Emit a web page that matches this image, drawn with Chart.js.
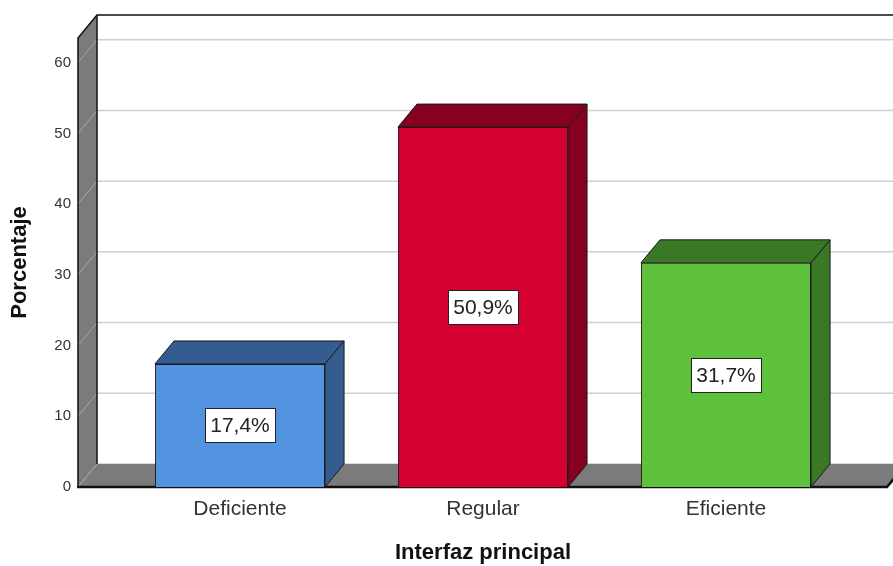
<!DOCTYPE html>
<html>
<head>
<meta charset="utf-8">
<script src="https://cdn.jsdelivr.net/npm/chart.js@4.4.1/dist/chart.umd.min.js"></script>
<style>
  html, body { margin: 0; padding: 0; background: #ffffff; }
  #wrap { width: 893px; height: 566px; }
</style>
</head>
<body>
<div id="wrap"><canvas id="c" width="893" height="566"></canvas></div>
<script>
const categories = ['Deficiente', 'Regular', 'Eficiente'];
const percentages = [17.4, 50.9, 31.7];
const valueLabels = ['17,4%', '50,9%', '31,7%'];
const yTicks = [0, 10, 20, 30, 40, 50, 60];
const frontColors = ['#5294E2', '#D30031', '#5EC13B'];
const sideColors = ['#345C8E', '#86001F', '#3B7826'];

const DX = 19, DY = -23;
const FONT = '"Liberation Sans", Arial, sans-serif';

const plot3d = {
  id: 'plot3d',
  beforeDatasetsDraw(chart) {
    const ctx = chart.ctx;
    const y = chart.scales.y;
    const y0 = y.getPixelForValue(0);
    const yTop = y.getPixelForValue(y.max);
    const xL = 78, xR = 887;
    ctx.save();
    ctx.lineWidth = 1.5;
    ctx.strokeStyle = '#cfcfcf';
    yTicks.forEach(v => {
      const py = y.getPixelForValue(v);
      ctx.beginPath();
      ctx.moveTo(xL + DX, py + DY);
      ctx.lineTo(chart.width + 20, py + DY);
      ctx.stroke();
    });
    ctx.fillStyle = '#7b7b7b';
    ctx.beginPath();
    ctx.moveTo(xL, y0);
    ctx.lineTo(xL, yTop);
    ctx.lineTo(xL + DX, yTop + DY);
    ctx.lineTo(xL + DX, y0 + DY);
    ctx.closePath();
    ctx.fill();
    ctx.strokeStyle = '#a8a8a8';
    ctx.lineWidth = 1;
    yTicks.forEach(v => {
      const py = y.getPixelForValue(v);
      ctx.beginPath();
      ctx.moveTo(xL, py);
      ctx.lineTo(xL + DX, py + DY);
      ctx.stroke();
    });
    ctx.fillStyle = '#7b7b7b';
    ctx.beginPath();
    ctx.moveTo(xL, y0);
    ctx.lineTo(xR, y0);
    ctx.lineTo(xR + DX, y0 + DY);
    ctx.lineTo(xL + DX, y0 + DY);
    ctx.closePath();
    ctx.fill();
    ctx.strokeStyle = '#a8a8a8';
    ctx.beginPath();
    ctx.moveTo(xL, y0);
    ctx.lineTo(xL + DX, y0 + DY);
    ctx.stroke();
    ctx.strokeStyle = '#111';
    ctx.lineWidth = 1.5;
    ctx.beginPath();
    ctx.moveTo(xL, y0);
    ctx.lineTo(xL, yTop);
    ctx.lineTo(xL + DX, yTop + DY);
    ctx.lineTo(chart.width + 20, yTop + DY);
    ctx.stroke();
    ctx.beginPath();
    ctx.moveTo(xL + DX, yTop + DY);
    ctx.lineTo(xL + DX, y0 + DY);
    ctx.stroke();
    ctx.lineWidth = 2.5;
    ctx.beginPath();
    ctx.moveTo(xL - 1, y0);
    ctx.lineTo(xR, y0);
    ctx.lineTo(xR + DX, y0 + DY);
    ctx.stroke();
    ctx.restore();
  },
  afterDatasetsDraw(chart) {
    const ctx = chart.ctx;
    const meta = chart.getDatasetMeta(0);
    ctx.save();
    meta.data.forEach((bar, i) => {
      const p = bar.getProps(['x', 'y', 'base', 'width'], true);
      const l = p.x - p.width / 2, r = p.x + p.width / 2, t = p.y, b = p.base;
      ctx.fillStyle = sideColors[i];
      ctx.strokeStyle = '#1a1a1a';
      ctx.lineWidth = 1;
      ctx.beginPath();
      ctx.moveTo(l, t);
      ctx.lineTo(l + DX, t + DY);
      ctx.lineTo(r + DX, t + DY);
      ctx.lineTo(r, t);
      ctx.closePath();
      ctx.fill();
      ctx.stroke();
      ctx.beginPath();
      ctx.moveTo(r, t);
      ctx.lineTo(r + DX, t + DY);
      ctx.lineTo(r + DX, b + DY);
      ctx.lineTo(r, b);
      ctx.closePath();
      ctx.fill();
      ctx.stroke();
      ctx.font = '21px ' + FONT;
      const txt = valueLabels[i];
      const w = ctx.measureText(txt).width + 10;
      const h = 34;
      const cy = (t + b) / 2;
      ctx.fillStyle = '#ffffff';
      ctx.fillRect(Math.round(p.x - w / 2) + 0.5, Math.round(cy - h / 2) + 0.5, Math.round(w), h);
      ctx.strokeStyle = '#222';
      ctx.strokeRect(Math.round(p.x - w / 2) + 0.5, Math.round(cy - h / 2) + 0.5, Math.round(w), h);
      ctx.fillStyle = '#222';
      ctx.textAlign = 'center';
      ctx.textBaseline = 'middle';
      ctx.fillText(txt, p.x, cy + 1);
    });
    ctx.restore();
  }
};

new Chart(document.getElementById('c'), {
  type: 'bar',
  data: {
    labels: categories,
    datasets: [{
      data: percentages,
      backgroundColor: frontColors,
      borderColor: '#1a1a1a',
      borderWidth: 1,
      barPercentage: 0.7,
      categoryPercentage: 1.0
    }]
  },
  options: {
    responsive: false,
    animation: false,
    devicePixelRatio: 1,
    layout: { padding: { left: 0, right: 45.5, top: 38, bottom: 0 } },
    plugins: { legend: { display: false }, tooltip: { enabled: false } },
    scales: {
      x: {
        grid: { display: false, drawTicks: false },
        border: { display: false },
        ticks: { color: '#333', font: { family: FONT, size: 21 }, padding: 10 },
        title: { display: true, text: 'Interfaz principal', color: '#111',
                 font: { family: FONT, size: 22, weight: 'bold' }, padding: { top: 0, bottom: 0 } },
        afterFit(s) { s.height = 79; s.paddingLeft = 0; s.paddingRight = 0; }
      },
      y: {
        min: 0, max: 63.5,
        grid: { display: false, drawTicks: false },
        border: { display: false },
        ticks: { color: '#333', font: { family: FONT, size: 15 }, padding: 47.5 },
        afterBuildTicks(s) { s.ticks = yTicks.map(v => ({ value: v })); },
        title: { display: true, text: 'Porcentaje', color: '#111',
                 font: { family: FONT, size: 22, weight: 'bold' }, padding: { top: 7, bottom: 0 } },
        afterFit(s) { s.width = 118.5; s.paddingTop = 0; s.paddingBottom = 0; }
      }
    }
  },
  plugins: [plot3d]
});
</script>
</body>
</html>
